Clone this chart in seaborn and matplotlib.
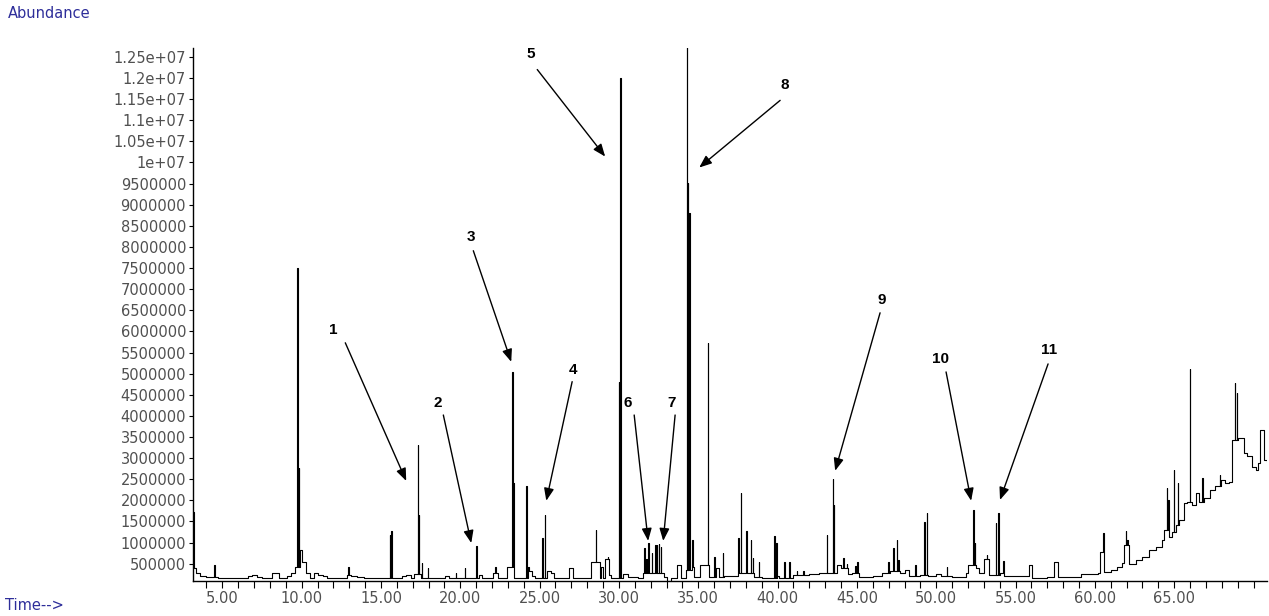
import numpy as np
import pandas as pd
import matplotlib
matplotlib.use("Agg")
import matplotlib.pyplot as plt
import seaborn as sns

# ---- Total ion chromatogram -------------------------------------------
# Background level of the trace (drawn as a step trace): time (min), abundance
trace_time = [
    3.15, 3.24, 3.35, 3.6, 4.0, 4.7, 6.6, 6.9, 7.2, 7.5, 8.15, 8.55, 9.05, 9.35,
    9.55, 9.9, 10.05, 10.3, 10.55, 10.75, 11.05, 11.35, 11.6, 12.85, 13.1, 13.5,
    13.9, 16.3, 16.6, 16.9, 17.1, 17.5, 19.05, 19.3, 21.15, 21.35, 22.05, 22.4,
    22.95, 23.4, 24.25, 24.35, 24.5, 24.7, 25.45, 25.7, 25.9, 26.85, 27.1, 28.25,
    28.8, 28.85, 29.0, 29.15, 29.38, 29.5, 30.25, 30.6, 31.2, 31.5, 32.7, 32.85,
    33.0, 33.3, 33.65, 33.92, 34.2, 34.6, 34.75, 35.1, 35.7, 36.1, 36.3, 36.65,
    37.5, 38.5, 39.0, 39.95, 40.1, 41.0, 42.0, 42.6, 43.0, 43.65, 43.75, 44.0,
    44.45, 44.7, 45.15, 46.0, 46.6, 47.1, 47.7, 48.0, 48.3, 49.0, 49.5, 50.0,
    50.3, 51.0, 51.9, 52.0, 52.5, 52.7, 53.0, 53.3, 54.0, 54.3, 55.85, 56.05,
    57.0, 57.45, 57.7, 58.5, 59.1, 60.2, 60.35, 60.6, 61.0, 61.4, 61.7, 61.85,
    62.15, 62.6, 63.0, 63.4, 63.85, 64.2, 64.35, 64.58, 64.7, 64.85, 65.1, 65.3,
    65.6, 65.8, 66.1, 66.4, 66.55, 66.85, 67.26, 67.6, 67.95, 68.2, 68.45, 68.66,
    69.03, 69.39, 69.6, 69.92, 70.13, 70.3, 70.39, 70.66, 70.85,
]
trace_abund = [
    1730000, 400000, 280000, 220000, 180000, 160000, 210000, 240000, 190000,
    160000, 270000, 160000, 210000, 270000, 420000, 830000, 540000, 290000,
    170000, 290000, 230000, 210000, 160000, 240000, 210000, 180000, 160000,
    210000, 230000, 160000, 260000, 160000, 210000, 160000, 240000, 160000,
    290000, 160000, 420000, 160000, 420000, 330000, 210000, 160000, 330000,
    270000, 160000, 400000, 160000, 540000, 160000, 420000, 160000, 600000,
    240000, 160000, 260000, 180000, 160000, 290000, 270000, 180000, 100000,
    160000, 470000, 160000, 340000, 420000, 180000, 470000, 180000, 400000,
    180000, 210000, 280000, 180000, 165000, 210000, 170000, 230000, 260000,
    290000, 270000, 270000, 470000, 400000, 260000, 290000, 180000, 200000,
    280000, 320000, 270000, 340000, 210000, 230000, 210000, 250000, 200000,
    180000, 290000, 470000, 400000, 270000, 600000, 240000, 270000, 200000,
    480000, 170000, 180000, 550000, 180000, 190000, 260000, 290000, 780000,
    310000, 340000, 420000, 520000, 940000, 500000, 580000, 650000, 820000,
    900000, 1050000, 1300000, 2000000, 1140000, 1250000, 1420000, 1540000,
    1930000, 1970000, 1890000, 2170000, 1970000, 2050000, 2250000, 2350000,
    2480000, 2400000, 2440000, 3430000, 3470000, 3120000, 3040000, 2800000,
    2720000, 2880000, 3670000, 2960000, 2900000,
]

# Sharp peaks: apex time (min) and apex abundance
peak_time = [
    4.5, 9.73, 9.82, 12.94, 15.54, 15.66, 17.31, 17.37, 17.58, 17.94, 19.7,
    20.3, 21.0, 22.2, 23.27, 23.33, 24.16, 25.18, 25.31, 28.55, 29.3, 30.0,
    30.08, 31.61, 31.72, 31.86, 32.07, 32.28, 32.39, 32.53, 32.64, 34.28, 34.35,
    34.44, 34.63, 35.6, 36.02, 36.55, 37.53, 37.68, 38.02, 38.31, 38.44, 38.82,
    39.8, 39.91, 40.43, 40.75, 41.2, 41.63, 43.1, 43.48, 43.56, 44.15, 44.36,
    44.9, 45.03, 46.98, 47.3, 47.51, 47.62, 48.67, 49.26, 49.41, 50.65, 52.34,
    52.45, 53.18, 53.77, 53.92, 54.23, 60.53, 61.95, 62.05, 64.53, 64.99, 65.22,
    66.0, 66.77, 67.89, 68.83, 68.93,
]
peak_abund = [
    470000, 7510000, 2770000, 420000, 1180000, 1270000, 3310000, 1650000,
    520000, 400000, 280000, 400000, 920000, 420000, 5040000, 2410000, 2340000,
    1110000, 1650000, 1300000, 660000, 4800000, 12000000, 870000, 600000,
    990000, 750000, 940000, 950000, 960000, 900000, 14500000, 9520000, 8800000,
    1060000, 5730000, 660000, 750000, 1100000, 2180000, 1270000, 1060000,
    640000, 550000, 1160000, 1000000, 540000, 540000, 330000, 330000, 1180000,
    2510000, 1890000, 640000, 500000, 450000, 540000, 540000, 870000, 1060000,
    580000, 470000, 1490000, 1700000, 420000, 1770000, 1000000, 700000,
    1460000, 1700000, 560000, 1230000, 1280000, 1060000, 2290000, 2720000,
    2410000, 5110000, 2520000, 2600000, 4780000, 4540000,
]
peak_width = 0.025  # min

# Numbered compound labels: label position, arrow tail, arrow head (time, abundance)
label_text = ["1", "2", "3", "4", "5", "6", "7", "8", "9", "10", "11"]
label_pos = [(11.99, 6.04e6), (18.55, 4.31e6), (20.69, 8.24e6), (27.12, 5.09e6),
             (24.47, 12.56e6), (30.58, 4.31e6), (33.29, 4.31e6), (40.48, 11.84e6),
             (46.59, 6.75e6), (50.24, 5.35e6), (57.11, 5.56e6)]
arrow_tail = [(12.75, 5.73e6), (18.93, 4.02e6), (20.82, 7.91e6), (27.05, 4.81e6),
              (24.85, 12.2e6), (30.96, 4.02e6), (33.54, 4.02e6), (40.16, 11.47e6),
              (46.46, 6.44e6), (50.62, 5.04e6), (57.05, 5.23e6)]
arrow_head = [(16.59, 2.46e6), (20.69, 0.99e6), (23.21, 5.28e6), (25.42, 1.99e6),
              (29.13, 10.14e6), (31.84, 1.04e6), (32.79, 1.04e6), (35.06, 9.88e6),
              (43.63, 2.70e6), (52.2, 1.99e6), (54.02, 2.01e6)]

# Axis ticks
xtick_values = [5, 10, 15, 20, 25, 30, 35, 40, 45, 50, 55, 60, 65]
xtick_labels = ["5.00", "10.00", "15.00", "20.00", "25.00", "30.00", "35.00",
                "40.00", "45.00", "50.00", "55.00", "60.00", "65.00"]
ytick_values = [500000, 1000000, 1500000, 2000000, 2500000, 3000000, 3500000,
                4000000, 4500000, 5000000, 5500000, 6000000, 6500000, 7000000,
                7500000, 8000000, 8500000, 9000000, 9500000, 10000000, 10500000,
                11000000, 11500000, 12000000, 12500000]
ytick_labels = ["500000", "1000000", "1500000", "2000000", "2500000", "3000000",
                "3500000", "4000000", "4500000", "5000000", "5500000", "6000000",
                "6500000", "7000000", "7500000", "8000000", "8500000", "9000000",
                "9500000", "1e+07", "1.05e+07", "1.1e+07", "1.15e+07", "1.2e+07",
                "1.25e+07"]

# ---- assemble the step trace with the peaks inserted --------------------
tt = np.asarray(trace_time, dtype=float)
tv = np.asarray(trace_abund, dtype=float)


def level_at(t):
    idx = np.searchsorted(tt, t, side="right") - 1
    return tv[max(idx, 0)]


rows = [(t, 0, v) for t, v in zip(tt, tv)]
for t, h in zip(peak_time, peak_abund):
    rows.append((t, 1, h))
    rows.append((t + peak_width, 2, level_at(t + peak_width)))
rows.sort(key=lambda r: (r[0], r[1]))
tic = pd.DataFrame({"Time": [r[0] for r in rows], "Abundance": [r[2] for r in rows]})

# ---- figure ---------------------------------------------------------------
sns.set_style("white")
plt.rcParams["font.family"] = ["DejaVu Sans"]

W, H = 1269, 616
fig = plt.figure(figsize=(W / 100, H / 100), dpi=100)
ax = fig.add_axes([193 / W, 35 / H, (1267 - 193) / W, (581 - 48) / H])

sns.lineplot(data=tic, x="Time", y="Abundance", drawstyle="steps-post",
             estimator=None, sort=False, color="black", linewidth=0.8, ax=ax)

ax.set_xlim(3.15, 70.85)
ax.set_ylim(90000, 12710000)
ax.set_xlabel("")
ax.set_ylabel("")

tick_color = "#505050"
ax.set_xticks(xtick_values)
ax.set_xticklabels(xtick_labels, fontsize=10.5, color=tick_color)
ax.set_xticks(np.arange(4, 71, 1), minor=True)
ax.set_yticks(ytick_values)
ax.set_yticklabels(ytick_labels, fontsize=10.5, color=tick_color)
ax.tick_params(axis="x", which="both", direction="out", length=5, width=0.8,
               color="black", pad=2, bottom=True)
ax.tick_params(axis="y", which="major", direction="out", length=3, width=0.8,
               color="black", pad=2, left=True)

sns.despine(ax=ax)
for side in ("left", "bottom"):
    ax.spines[side].set_color("black")
    ax.spines[side].set_linewidth(1.0)

# Numbered compounds with arrows
for txt, pos, tail, head in zip(label_text, label_pos, arrow_tail, arrow_head):
    ax.annotate("", xy=head, xytext=tail, xycoords="data", textcoords="data",
                arrowprops=dict(arrowstyle="-|>,head_length=0.75,head_width=0.3",
                                mutation_scale=10, color="black", lw=1.0,
                                shrinkA=0, shrinkB=0),
                annotation_clip=False)
    ax.text(pos[0], pos[1], txt, ha="center", va="center", fontsize=11,
            fontweight="bold", color="black", family="Liberation Sans")

axis_text_color = "#2e2e9a"
fig.text(8 / W, 1 - 13 / H, "Abundance", ha="left", va="center",
         fontsize=10.5, color=axis_text_color)
fig.text(5 / W, 1 - 606 / H, "Time-->", ha="left", va="center",
         fontsize=10.5, color=axis_text_color)

fig.savefig("out.png", dpi=100, facecolor="white")
